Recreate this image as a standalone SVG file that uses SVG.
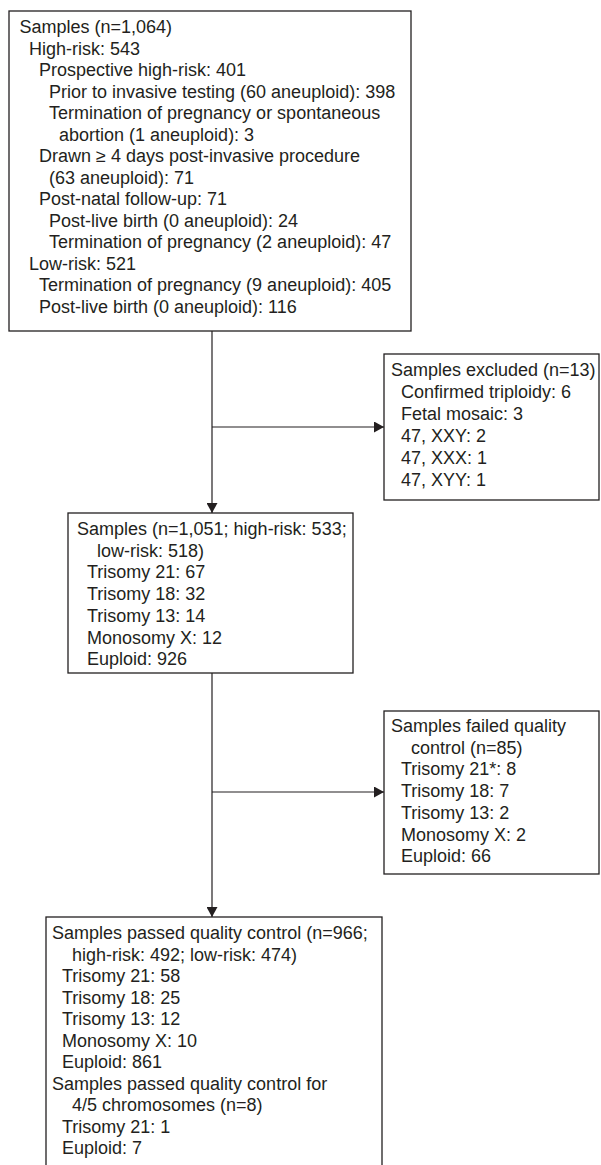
<svg xmlns="http://www.w3.org/2000/svg" width="601" height="1165" viewBox="0 0 601 1165">
<style>
  .box { fill: #ffffff; stroke: #231f20; stroke-width: 1.3; }
  .t { font-family: "Liberation Sans", Arial, sans-serif; font-size: 18px; fill: #231f20; }
  .line { fill: none; stroke: #231f20; stroke-width: 1.2; }
</style>
<defs>
  <marker id="arrow" viewBox="0 0 10 11" refX="10" refY="5.5" markerWidth="10" markerHeight="11" markerUnits="userSpaceOnUse" orient="auto">
    <path d="M0,0 L10,5.5 L0,11 Z" fill="#231f20"/>
  </marker>
</defs>
<rect width="601" height="1165" fill="#ffffff"/>

<g id="connectors">
  <line class="line" x1="212" y1="331" x2="212" y2="513" marker-end="url(#arrow)"/>
  <line class="line" x1="212" y1="427" x2="384" y2="427" marker-end="url(#arrow)"/>
  <line class="line" x1="212" y1="673" x2="212" y2="917" marker-end="url(#arrow)"/>
  <line class="line" x1="212" y1="792" x2="384" y2="792" marker-end="url(#arrow)"/>
</g>

<g id="samples-all">
  <rect class="box" x="9" y="11" width="402" height="320"/>
  <text class="t" x="19.5" y="33">Samples (n=1,064)</text>
  <text class="t" x="29" y="54.5">High-risk: 543</text>
  <text class="t" x="39" y="76">Prospective high-risk: 401</text>
  <text class="t" x="49" y="97.5">Prior to invasive testing (60 aneuploid): 398</text>
  <text class="t" x="49" y="119">Termination of pregnancy or spontaneous</text>
  <text class="t" x="59" y="140.5">abortion (1 aneuploid): 3</text>
  <text class="t" x="39" y="162">Drawn ≥ 4 days post-invasive procedure</text>
  <text class="t" x="49" y="183.5">(63 aneuploid): 71</text>
  <text class="t" x="39" y="205">Post-natal follow-up: 71</text>
  <text class="t" x="49" y="226.5">Post-live birth (0 aneuploid): 24</text>
  <text class="t" x="49" y="248">Termination of pregnancy (2 aneuploid): 47</text>
  <text class="t" x="29" y="269.5">Low-risk: 521</text>
  <text class="t" x="39" y="291">Termination of pregnancy (9 aneuploid): 405</text>
  <text class="t" x="39" y="312.5">Post-live birth (0 aneuploid): 116</text>
</g>

<g id="samples-excluded">
  <rect class="box" x="384" y="354" width="215" height="146"/>
  <text class="t" x="391" y="376">Samples excluded (n=13)</text>
  <text class="t" x="401" y="398">Confirmed triploidy: 6</text>
  <text class="t" x="401" y="420">Fetal mosaic: 3</text>
  <text class="t" x="401" y="442">47, XXY: 2</text>
  <text class="t" x="401" y="464">47, XXX: 1</text>
  <text class="t" x="401" y="486">47, XYY: 1</text>
</g>

<g id="samples-included">
  <rect class="box" x="68" y="513" width="285" height="160"/>
  <text class="t" x="77" y="535">Samples (n=1,051; high-risk: 533;</text>
  <text class="t" x="97" y="556.7">low-risk: 518)</text>
  <text class="t" x="87" y="578.4">Trisomy 21: 67</text>
  <text class="t" x="87" y="600.1">Trisomy 18: 32</text>
  <text class="t" x="87" y="621.8">Trisomy 13: 14</text>
  <text class="t" x="87" y="643.5">Monosomy X: 12</text>
  <text class="t" x="87" y="665.2">Euploid: 926</text>
</g>

<g id="samples-failed">
  <rect class="box" x="384" y="711" width="215" height="163"/>
  <text class="t" x="391" y="732">Samples failed quality</text>
  <text class="t" x="411" y="753.7">control (n=85)</text>
  <text class="t" x="401" y="775.4">Trisomy 21*: 8</text>
  <text class="t" x="401" y="797.1">Trisomy 18: 7</text>
  <text class="t" x="401" y="818.8">Trisomy 13: 2</text>
  <text class="t" x="401" y="840.5">Monosomy X: 2</text>
  <text class="t" x="401" y="862.2">Euploid: 66</text>
</g>

<g id="samples-passed">
  <rect class="box" x="46" y="917" width="336" height="260"/>
  <text class="t" x="52" y="939">Samples passed quality control (n=966;</text>
  <text class="t" x="72" y="960.5">high-risk: 492; low-risk: 474)</text>
  <text class="t" x="62" y="982">Trisomy 21: 58</text>
  <text class="t" x="62" y="1003.5">Trisomy 18: 25</text>
  <text class="t" x="62" y="1025">Trisomy 13: 12</text>
  <text class="t" x="62" y="1046.5">Monosomy X: 10</text>
  <text class="t" x="62" y="1068">Euploid: 861</text>
  <text class="t" x="52" y="1089.5">Samples passed quality control for</text>
  <text class="t" x="72" y="1111">4/5 chromosomes (n=8)</text>
  <text class="t" x="62" y="1132.5">Trisomy 21: 1</text>
  <text class="t" x="62" y="1154">Euploid: 7</text>
</g>
</svg>
